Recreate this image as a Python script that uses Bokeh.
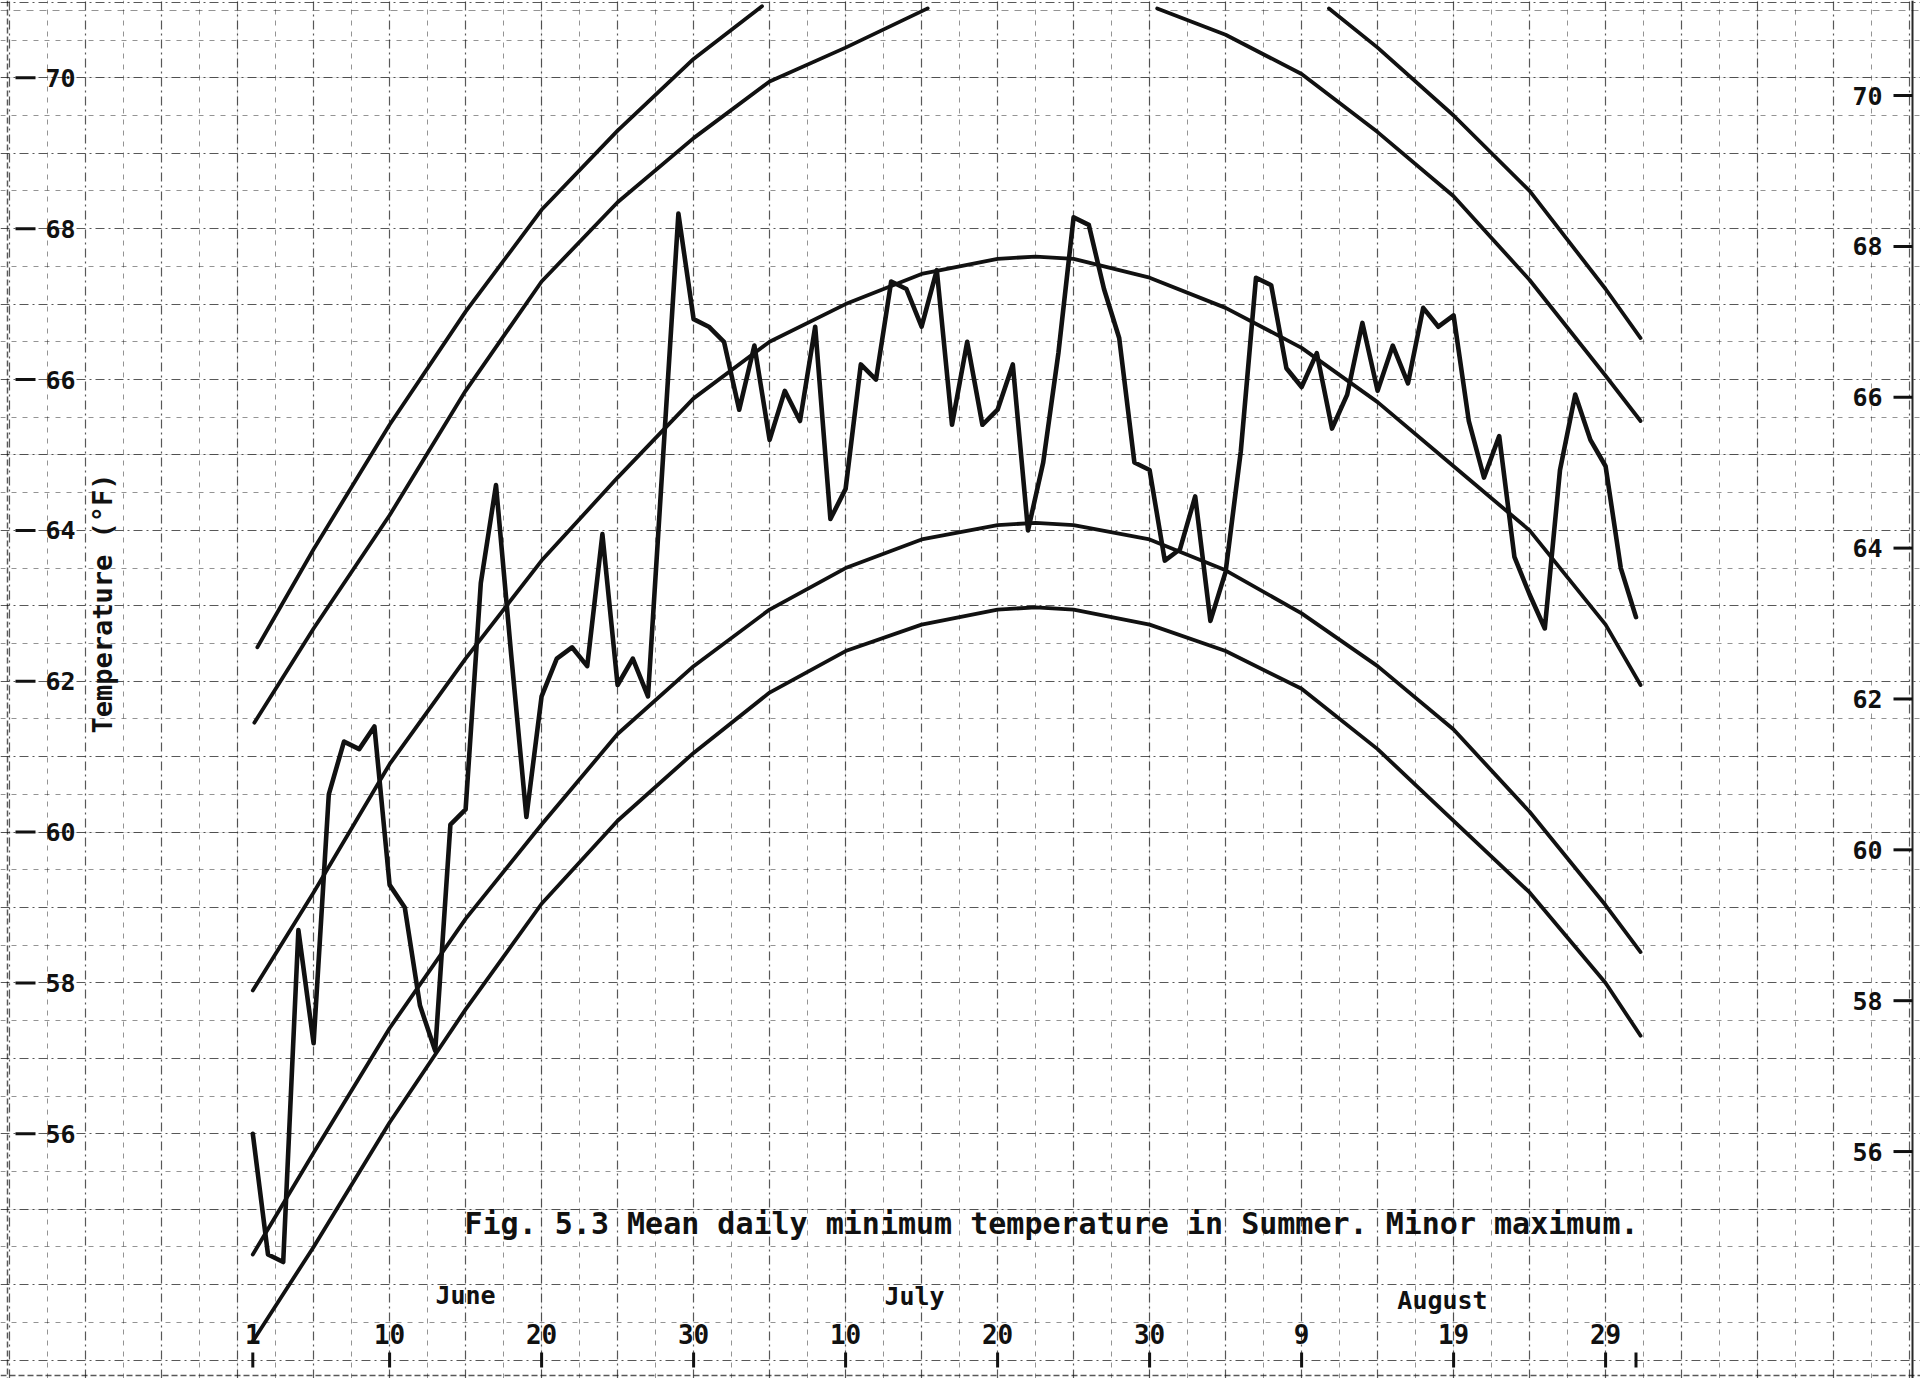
import numpy as np
from bokeh.plotting import figure
from bokeh.models import Range1d, LinearAxis, FixedTicker, Grid, Label, Span
from bokeh.embed import file_html
from bokeh.resources import INLINE

# ---------------- data ----------------
days = list(range(1, 93))  # 1 = June 1 ... 92 = August 31
mean_daily_min = [
    56.0, 54.4, 54.3, 58.7, 57.2, 60.5, 61.2, 61.1, 61.4, 59.3,
    59.0, 57.7, 57.1, 60.1, 60.3, 63.3, 64.6, 62.35, 60.2, 61.8,
    62.3, 62.45, 62.2, 63.95, 61.95, 62.3, 61.8, 65.0, 68.2, 66.8,
    66.7, 66.5, 65.6, 66.45, 65.2, 65.85, 65.45, 66.7, 64.15, 64.55,
    66.2, 66.0, 67.3, 67.2, 66.7, 67.45, 65.4, 66.5, 65.4, 65.6,
    66.2, 64.0, 64.9, 66.35, 68.15, 68.05, 67.2, 66.55, 64.9, 64.8,
    63.6, 63.75, 64.45, 62.8, 63.45, 65.05, 67.35, 67.25, 66.15, 65.9,
    66.35, 65.35, 65.8, 66.75, 65.85, 66.45, 65.95, 66.95, 66.7, 66.85,
    65.45, 64.7, 65.25, 63.65, 63.15, 62.7, 64.8, 65.8, 65.2, 64.85,
    63.5, 62.85,
]

curve_days = [1, 5, 10, 15, 20, 25, 30, 35, 40, 45, 50, 52.5, 55, 60, 65, 70, 75, 80, 85, 90, 92.3]
curve_c = [57.9, 59.2, 60.9, 62.3, 63.6, 64.7, 65.75, 66.5, 67.0, 67.4, 67.6, 67.63, 67.6,
           67.35, 66.95, 66.42, 65.7, 64.85, 64.0, 62.75, 61.95]
curve_d = [54.4, 55.75, 57.4, 58.85, 60.1, 61.3, 62.2, 62.95, 63.5, 63.88, 64.07, 64.1, 64.07,
           63.88, 63.47, 62.9, 62.2, 61.36, 60.27, 59.03, 58.41]
curve_e = [53.25, 54.5, 56.15, 57.65, 59.05, 60.15, 61.05, 61.85, 62.4, 62.75, 62.95, 62.98, 62.95,
           62.75, 62.4, 61.9, 61.1, 60.15, 59.2, 58.0, 57.3]

curve_a_left_days = [1.3, 5, 10, 15, 20, 25, 30, 34.5]
curve_a_left = [62.45, 63.75, 65.4, 66.9, 68.25, 69.3, 70.25, 70.95]
curve_a_right_days = [71.8, 75, 80, 85, 90, 92.3]
curve_a_right = [70.92, 70.4, 69.5, 68.5, 67.2, 66.55]

curve_b_left_days = [1.1, 5, 10, 15, 20, 25, 30, 35, 40, 45.4]
curve_b_left = [61.45, 62.7, 64.2, 65.85, 67.3, 68.35, 69.2, 69.95, 70.4, 70.92]
curve_b_right_days = [60.5, 65, 70, 75, 80, 85, 90, 92.3]
curve_b_right = [70.92, 70.57, 70.05, 69.28, 68.43, 67.32, 66.05, 65.45]

x_tick_days = [1, 10, 20, 30, 40, 50, 60, 70, 80, 90]
x_tick_labels = ["1", "10", "20", "30", "10", "20", "30", "9", "19", "29"]
x_tick_marks = x_tick_days + [92]
y_ticks = [56, 58, 60, 62, 64, 66, 68, 70]
months = ["June", "July", "August"]

caption = "Fig. 5.3 Mean daily minimum temperature in Summer. Minor maximum."
y_title = "Temperature (\u00b0F)"

# ---------------- layout calibration (page pixels) ----------------
W, H = 1920, 1378
X_DAY1, PX_PER_DAY = 252.3, 15.2
Y_70, PX_PER_DEG = 77.3, 75.43
RIGHT_SHIFT = 0.235  # right-hand scale sits slightly lower on the sheet


def day_at(px):
    return 1 + (px - X_DAY1) / PX_PER_DAY


def temp_at(py):
    return 70 - (py - Y_70) / PX_PER_DEG


x0, x1 = day_at(0), day_at(W)
y0, y1 = temp_at(H), temp_at(0)

FONT = "DejaVu Sans Mono"
INK = "#111111"

p = figure(width=W, height=H, output_backend="svg", toolbar_location=None,
           x_axis_location=None, y_axis_location=None,
           x_range=Range1d(x0, x1), y_range=Range1d(y0, y1),
           min_border=0, min_border_left=0, min_border_right=0,
           min_border_top=0, min_border_bottom=0)
p.extra_y_ranges = {"right": Range1d(y0 + RIGHT_SHIFT, y1 + RIGHT_SHIFT)}
p.background_fill_color = "white"
p.border_fill_color = "white"
p.outline_line_color = None

# ---------------- graph-paper grid ----------------
grid_style = dict(grid_line_color=INK, grid_line_alpha=0.7, grid_line_width=1.2,
                  grid_line_dash="9 4 2 4",
                  minor_grid_line_color=INK, minor_grid_line_alpha=0.45,
                  minor_grid_line_width=1, minor_grid_line_dash="5 6")
xg = Grid(dimension=0,
          ticker=FixedTicker(ticks=list(np.arange(-15, 111, 5.0)),
                             minor_ticks=list(np.arange(-12.5, 111, 5.0))), **grid_style)
yg = Grid(dimension=1,
          ticker=FixedTicker(ticks=list(np.arange(53, 72, 1.0)),
                             minor_ticks=list(np.arange(52.5, 72, 1.0))), **grid_style)
p.add_layout(xg)
p.add_layout(yg)

# sheet edges
p.add_layout(Span(location=day_at(7), dimension="height", line_color=INK,
                  line_alpha=0.7, line_width=1.5, line_dash="6 3"))
p.add_layout(Span(location=day_at(1912), dimension="height", line_color=INK,
                  line_alpha=0.9, line_width=2))
p.add_layout(Span(location=temp_at(1375), dimension="width", line_color=INK,
                  line_alpha=0.7, line_width=1.5, line_dash="6 3"))
p.add_layout(Span(location=temp_at(10), dimension="width", line_color=INK,
                  line_alpha=0.45, line_width=1.2, line_dash="7 6"))

# ---------------- curves ----------------
CURVE_W = 3.8
for xs, ys in [(curve_a_left_days, curve_a_left), (curve_a_right_days, curve_a_right),
               (curve_b_left_days, curve_b_left), (curve_b_right_days, curve_b_right),
               (curve_days, curve_c), (curve_days, curve_d), (curve_days, curve_e)]:
    p.line(xs, ys, line_color=INK, line_width=CURVE_W, line_join="round", line_cap="round")

p.line(days, mean_daily_min, line_color=INK, line_width=4.6, line_join="round",
       line_cap="round")

# ---------------- tick marks ----------------
p.segment(x0=day_at(15), x1=day_at(35), y0=y_ticks, y1=y_ticks,
          line_color=INK, line_width=3)
p.segment(x0=day_at(1893), x1=day_at(1912), y0=y_ticks, y1=y_ticks,
          line_color=INK, line_width=3, y_range_name="right")
p.segment(x0=x_tick_marks, x1=x_tick_marks, y0=temp_at(1352), y1=temp_at(1367),
          line_color=INK, line_width=3)


# ---------------- axes (tick labels) ----------------
def bare_axis(**kw):
    return LinearAxis(axis_line_color=None, major_tick_line_color=None,
                      minor_tick_line_color=None, major_tick_in=0, major_tick_out=0,
                      minor_tick_in=0, minor_tick_out=0, major_label_text_font=FONT,
                      major_label_text_font_style="bold",
                      major_label_text_color=INK, **kw)


left_lab = bare_axis(fixed_location=day_at(79), ticker=FixedTicker(ticks=y_ticks),
                     major_label_standoff=4, major_label_text_font_size="25px")
p.add_layout(left_lab, "left")

right_lab = bare_axis(fixed_location=day_at(1848), y_range_name="right",
                      ticker=FixedTicker(ticks=y_ticks),
                      major_label_standoff=4, major_label_text_font_size="25px")
p.add_layout(right_lab, "right")

bottom_lab = bare_axis(fixed_location=temp_at(1313), ticker=FixedTicker(ticks=x_tick_days),
                       major_label_overrides={d: t for d, t in zip(x_tick_days, x_tick_labels)},
                       major_label_standoff=10, major_label_text_font_size="26px")
p.add_layout(bottom_lab, "below")

# ---------------- texts ----------------
month_pos = [(day_at(465), temp_at(1295)), (day_at(914), temp_at(1296)), (day_at(1442), temp_at(1300))]
for name, (mx, my) in zip(months, month_pos):
    p.add_layout(Label(x=mx, y=my, text=name, text_font=FONT, text_font_size="25px",
                       text_font_style="bold", text_color=INK,
                       text_align="center", text_baseline="middle"))

p.add_layout(Label(x=day_at(464), y=temp_at(1223), text=caption, text_font=FONT,
                   text_font_size="30px", text_font_style="bold", text_color=INK,
                   text_align="left", text_baseline="middle"))

p.add_layout(Label(x=day_at(102), y=temp_at(603), text=y_title, text_font=FONT,
                   text_font_size="27px", text_font_style="bold", text_color=INK,
                   angle=np.pi / 2, text_align="center", text_baseline="middle"))

open("out.html", "w").write(file_html(p, INLINE))
